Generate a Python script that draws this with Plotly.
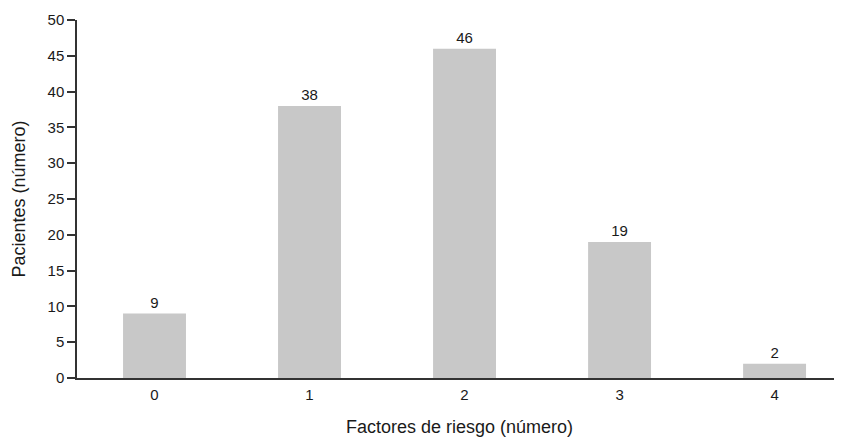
import plotly.graph_objects as go

categories = ["0", "1", "2", "3", "4"]
values = [9, 38, 46, 19, 2]
y_ticks = [0, 5, 10, 15, 20, 25, 30, 35, 40, 45, 50]

FONT = "Liberation Sans, Arial, Helvetica, sans-serif"

fig = go.Figure(go.Bar(
    x=list(range(len(categories))),
    y=values,
    width=0.406,
    marker=dict(color="#c8c8c8", line=dict(width=0)),
    text=[str(v) for v in values],
    textposition="outside",
    textfont=dict(size=15, color="#1a1a1a", family=FONT),
    cliponaxis=False,
))

# page body has an 8px default margin, so the figure is 8px smaller
fig.update_layout(
    width=834, height=429,
    margin=dict(l=69, r=0, t=12, b=59),
    plot_bgcolor="white", paper_bgcolor="white",
    font=dict(family=FONT, size=15, color="#1a1a1a"),
    showlegend=False,
    uniformtext=dict(minsize=15, mode="show"),
    xaxis=dict(
        range=[-0.5, 4.435],
        tickmode="array",
        tickvals=list(range(len(categories))),
        ticktext=categories,
        showgrid=False, zeroline=False,
        showline=True, linecolor="#333333", linewidth=1.5,
        ticks="", ticklabelstandoff=2,
        automargin=False,
        tickfont=dict(size=15),
        title=dict(text="Factores de riesgo (número)", font=dict(size=18), standoff=20),
    ),
    yaxis=dict(
        range=[0, 50],
        tickmode="array",
        tickvals=y_ticks,
        showgrid=False, zeroline=False,
        showline=True, linecolor="#333333", linewidth=1.5,
        ticks="outside", ticklen=8, tickwidth=1.5, tickcolor="#333333",
        automargin=False,
        tickfont=dict(size=15),
        title=dict(text="Pacientes (número)", font=dict(size=18), standoff=17),
    ),
)

fig.write_html("out.html")
